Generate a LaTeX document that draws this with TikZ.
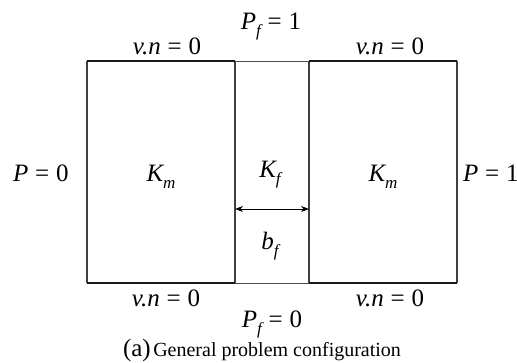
\documentclass[tikz,border=0pt]{standalone}
\usepackage{fontspec}
\setmainfont{Liberation Serif}
\usetikzlibrary{arrows.meta}
\newcommand\myeq{\hspace{0.27em}=\hspace{0.27em}}
\newcommand\mysub[1]{\raisebox{-0.28em}{\fontsize{17}{17}\selectfont\itshape #1}}
\begin{document}
\begin{tikzpicture}[x=1pt,y=-1pt,
  lbl/.style={inner sep=0pt,anchor=base,font=\fontsize{25}{30}\selectfont},
  side/.style={line width=1.2pt,draw=black!75},
  wall/.style={line width=2.4pt,draw=black!90},
  fracline/.style={line width=0.8pt,draw=black!70},
  dimarrow/.style={line width=0.9pt,{Stealth[length=8pt,width=6pt,inset=2.5pt]}-{Stealth[length=8pt,width=6pt,inset=2.5pt]}}]
\useasboundingbox (0,0) rectangle (517,363);
% corners
\coordinate (lt1) at (87,61);  \coordinate (lb1) at (87,283);
\coordinate (lt2) at (235,61); \coordinate (lb2) at (235,283);
\coordinate (rt1) at (309,61); \coordinate (rb1) at (309,283);
\coordinate (rt2) at (457,61); \coordinate (rb2) at (457,283);
% fracture top/bottom
\draw[fracline] (lt2) -- (rt1);
\draw[fracline] (lb2) -- (rb1);
% box sides
\draw[side] (lt1) -- (lb1);
\draw[side] (lt2) -- (lb2);
\draw[side] (rt1) -- (rb1);
\draw[side] (rt2) -- (rb2);
% no-flow walls
\draw[wall] (lt1) -- (lt2);
\draw[wall] (lb1) -- (lb2);
\draw[wall] (rt1) -- (rt2);
\draw[wall] (rb1) -- (rb2);
% aperture arrow
\coordinate (aL) at (235,209);
\coordinate (aR) at (309,209);
\draw[dimarrow] (aL) -- (aR);
% labels
\node[lbl] (pf1) at (271,30) {\itshape P\mysub{f}\upshape\myeq 1};
\node[lbl] (vn1) at (167,55) {\itshape v.n\upshape\myeq 0};
\node[lbl] (vn2) at (390,55) {\itshape v.n\upshape\myeq 0};
\node[lbl] (vn3) at (166,307) {\itshape v.n\upshape\myeq 0};
\node[lbl] (vn4) at (390,307) {\itshape v.n\upshape\myeq 0};
\node[lbl] (pf0) at (272,328) {\itshape P\mysub{f}\upshape\myeq 0};
\node[lbl,anchor=base west] (p0) at (13,182) {\itshape P\upshape\myeq 0};
\node[lbl,anchor=base west] (p1) at (463,182) {\itshape P\upshape\myeq 1};
\node[lbl] (km1) at (161,182) {\itshape K\mysub{m}};
\node[lbl] (kf) at (270,178) {\itshape K\mysub{f}};
\node[lbl] (km2) at (383,182) {\itshape K\mysub{m}};
\node[lbl] (bf) at (270,250) {\itshape b\mysub{f}};
\node[inner sep=0pt,anchor=base] (cap) at (262,357) {\fontsize{25}{28}\selectfont(a)\hspace{0.1em}\fontsize{20}{24}\selectfont General problem configuration};
\end{tikzpicture}
\end{document}
